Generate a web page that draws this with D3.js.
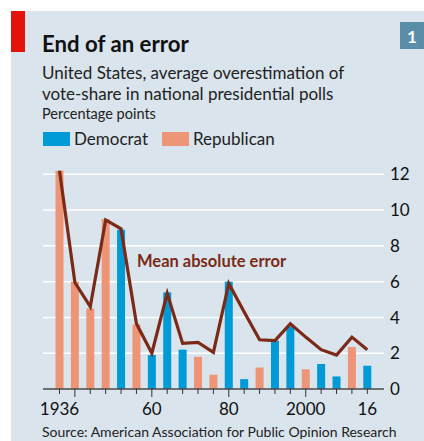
<!DOCTYPE html>
<html>
<head>
<meta charset="utf-8">
<script src="https://cdn.jsdelivr.net/npm/d3@7"></script>
<style>
  html, body { margin: 0; padding: 0; background: #fff; }
  svg { display: block; font-family: Lato, "Open Sans", sans-serif; }
</style>
</head>
<body>
<script>
// election years, which party the polls overestimated, and by how much
const years = [1936, 1940, 1944, 1948, 1952, 1956, 1960, 1964, 1968, 1972, 1976,
               1980, 1984, 1988, 1992, 1996, 2000, 2004, 2008, 2012, 2016];
const party = ["R", "R", "R", "R", "D", "R", "D", "D", "D", "R", "R",
               "D", "D", "R", "D", "D", "R", "D", "D", "R", "D"];
const overestimate = [12.2, 6.0, 4.5, 9.5, 8.9, 3.6, 1.9, 5.4, 2.2, 1.8, 0.8,
                      6.0, 0.55, 1.2, 2.7, 3.5, 1.1, 1.4, 0.7, 2.35, 1.3];
const meanAbsError = [12.2, 5.95, 4.6, 9.45, 8.95, 3.65, 2.0, 5.35, 2.55, 2.6, 2.05,
                      5.9, 4.3, 2.75, 2.7, 3.65, 2.9, 2.2, 1.9, 2.9, 2.2];
const yTicks = [0, 2, 4, 6, 8, 10, 12];
const xLabels = {1936: "1936", 1960: "60", 1980: "80", 2000: "2000", 2016: "16"};

const W = 424, H = 441;
const BG = "#d9e4ec";
const BLUE = "#009bd7";
const SALMON = "#ee9578";
const LINE = "#7a2a17";

const svg = d3.select("body").append("svg")
  .attr("width", W).attr("height", H);

svg.append("rect").attr("width", W).attr("height", H).attr("fill", "#fff");
svg.append("rect").attr("x", 11).attr("y", 11).attr("width", W - 11).attr("height", H - 11).attr("fill", BG);
svg.append("rect").attr("x", 11).attr("y", 11).attr("width", 14).attr("height", 41).attr("fill", "#e3120b");

// chart number box
svg.append("rect").attr("x", 400).attr("y", 22).attr("width", 24).attr("height", 27).attr("fill", "#5a8ea8");
svg.append("text").attr("x", 412).attr("y", 43).attr("text-anchor", "middle")
  .attr("fill", "#fff").attr("font-weight", 700).attr("font-size", 17).text("1");

// headings
svg.append("text").attr("x", 42).attr("y", 52).attr("font-size", 22.2).attr("font-weight", 700)
  .attr("fill", "#111").text("End of an error");
svg.append("text").attr("x", 42).attr("y", 79).attr("font-size", 17).attr("fill", "#222")
  .text("United States, average overestimation of");
svg.append("text").attr("x", 42).attr("y", 100).attr("font-size", 17).attr("fill", "#222")
  .text("vote-share in national presidential polls");
svg.append("text").attr("x", 42).attr("y", 119).attr("font-size", 14.5).attr("fill", "#222")
  .text("Percentage points");

// legend
const legend = [{label: "Democrat", color: BLUE, x: 43}, {label: "Republican", color: SALMON, x: 162}];
const lg = svg.append("g").selectAll("g").data(legend).join("g")
  .attr("transform", d => `translate(${d.x},132)`);
lg.append("rect").attr("width", 27).attr("height", 14).attr("fill", d => d.color);
lg.append("text").attr("x", 31).attr("y", 13).attr("font-size", 17).attr("fill", "#222").text(d => d.label);

// scales
const x = d3.scalePoint().domain(years).range([59.5, 367.3]);
const y = d3.scaleLinear().domain([0, 12]).range([389, 174.3]);

// gridlines + right axis labels
const grid = svg.append("g");
grid.selectAll("line").data(yTicks.filter(d => d > 0)).join("line")
  .attr("x1", 43).attr("x2", 384)
  .attr("y1", d => y(d)).attr("y2", d => y(d))
  .attr("stroke", "#fff").attr("stroke-width", 1.5);
grid.selectAll("text").data(yTicks).join("text")
  .attr("x", 390).attr("y", d => y(d)).attr("dy", "0.36em")
  .attr("font-size", 17).attr("fill", "#111").text(d => d);

// bars
const data = years.map((yr, i) => ({year: yr, party: party[i], v: overestimate[i], mae: meanAbsError[i]}));
const bw = 8;
svg.append("g").selectAll("rect").data(data).join("rect")
  .attr("x", d => x(d.year) - bw / 2)
  .attr("y", d => y(d.v))
  .attr("width", bw)
  .attr("height", d => y(0) - y(d.v))
  .attr("fill", d => d.party === "D" ? BLUE : SALMON);

// baseline and ticks
svg.append("line").attr("x1", 43).attr("x2", 384).attr("y1", y(0)).attr("y2", y(0))
  .attr("stroke", "#4a4a4a").attr("stroke-width", 1.5);
svg.append("g").selectAll("line").data(years).join("line")
  .attr("x1", d => x(d)).attr("x2", d => x(d))
  .attr("y1", y(0)).attr("y2", d => d % 20 === 0 ? y(0) + 8 : y(0) + 5)
  .attr("stroke", "#333").attr("stroke-width", 1);

svg.append("g").selectAll("text").data(years.filter(d => xLabels[d])).join("text")
  .attr("x", d => x(d)).attr("y", 415).attr("text-anchor", "middle")
  .attr("font-size", 17).attr("fill", "#111").text(d => xLabels[d]);

// mean absolute error line
const line = d3.line().x(d => x(d.year)).y(d => y(d.mae));
svg.append("path").datum(data).attr("d", line)
  .attr("fill", "none").attr("stroke", LINE).attr("stroke-width", 3.2)
  .attr("stroke-linejoin", "miter");
svg.append("text").attr("x", 137).attr("y", 267).attr("font-size", 16.5).attr("font-weight", 700)
  .attr("fill", LINE).text("Mean absolute error");

// source
svg.append("text").attr("x", 42).attr("y", 437).attr("font-size", 14).attr("fill", "#222")
  .text("Source: American Association for Public Opinion Research");
</script>
</body>
</html>
